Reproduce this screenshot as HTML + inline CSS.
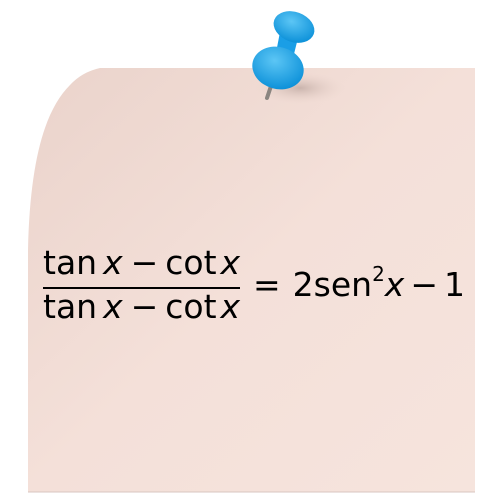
<!DOCTYPE html>
<html><head><style>
body{margin:0;background:#fff;}
svg{display:block}
text{font-family:"DejaVu Sans","Liberation Sans",sans-serif;fill:#000}
</style></head><body>
<svg width="500" height="500" viewBox="0 0 500 500">
<defs>
<linearGradient id="p" x1="0" y1="0" x2="1" y2="1">
<stop offset="0" stop-color="#ead3cb"/><stop offset="0.5" stop-color="#f4e0d9"/><stop offset="1" stop-color="#f6e4dd"/>
</linearGradient>
<radialGradient id="b" cx="0.4" cy="0.35" r="0.7">
<stop offset="0" stop-color="#5cc6f5"/><stop offset="1" stop-color="#0a8fd8"/>
</radialGradient>
<radialGradient id="sh" cx="0.5" cy="0.5" r="0.5">
<stop offset="0" stop-color="#b9a39c" stop-opacity="0.7"/><stop offset="1" stop-color="#e8d2ca" stop-opacity="0"/>
</radialGradient>
</defs>
<path d="M100,68 L475,68 L475,492 L28,492 L28,250 C30,160 45,110 70,85 Q82,72 100,68 Z" fill="url(#p)"/>
<line x1="28" y1="492" x2="475" y2="492" stroke="#d8c6c0" stroke-width="1"/>
<ellipse cx="300" cy="88" rx="45" ry="16" fill="url(#sh)"/>
<line x1="271" y1="86" x2="267" y2="98" stroke="#8a8580" stroke-width="4" stroke-linecap="round"/>
<path d="M280,32 L298,38 L292,62 L275,58 Z" fill="#1a9ee6"/>
<ellipse cx="294" cy="27" rx="21" ry="15" transform="rotate(20 294 27)" fill="url(#b)"/>
<ellipse cx="278" cy="68" rx="26" ry="21" transform="rotate(15 278 68)" fill="url(#b)"/>
<text x="43" y="274" font-size="33">tan<tspan font-style="italic" dx="6">x</tspan><tspan dx="8">−</tspan><tspan dx="7">cot</tspan><tspan font-style="italic" dx="4">x</tspan></text>
<rect x="43" y="287" width="197" height="2"/>
<text x="43" y="318" font-size="33">tan<tspan font-style="italic" dx="6">x</tspan><tspan dx="8">−</tspan><tspan dx="7">cot</tspan><tspan font-style="italic" dx="4">x</tspan></text>
<text x="253" y="296" font-size="33">=<tspan dx="12">2sen</tspan><tspan font-size="20" dy="-15">2</tspan><tspan font-style="italic" dy="15">x</tspan><tspan dx="6">−</tspan><tspan dx="6">1</tspan></text>
</svg>
</body></html>
